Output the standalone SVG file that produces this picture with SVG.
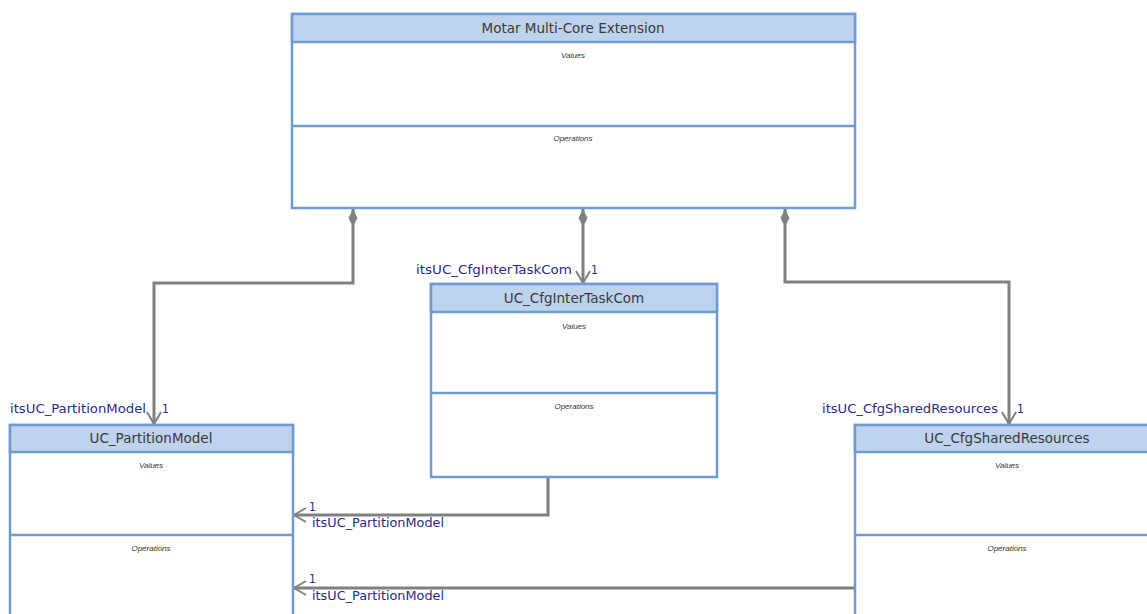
<svg xmlns="http://www.w3.org/2000/svg" width="1147" height="614" viewBox="0 0 1147 614">
  <style>
    .box { fill: #ffffff; stroke: #6f9bd1; stroke-width: 2.5; }
    .head { fill: #bdd3ee; stroke: #6f9bd1; stroke-width: 2.5; }
    .sep { stroke: #6f9bd1; stroke-width: 2.5; }
    .title { font-family: "DejaVu Sans", sans-serif; font-size: 13.5px; fill: #3a3a3a; text-anchor: middle; }
    .sect { font-family: "Liberation Sans", sans-serif; font-size: 8px; font-style: italic; fill: #333333; text-anchor: middle; }
    .wire { fill: none; stroke: #808080; stroke-width: 3; }
    .lbl { font-family: "DejaVu Sans Condensed", "DejaVu Sans", sans-serif; font-size: 12px; fill: #2b2b8a; }
  </style>
  <defs>
    <marker id="open" viewBox="0 0 14 16" refX="13" refY="8" markerWidth="14" markerHeight="16" markerUnits="userSpaceOnUse" orient="auto">
      <path d="M1,1 L13,8 L1,15" fill="none" stroke="#808080" stroke-width="2"/>
    </marker>
    <marker id="diamond" viewBox="0 0 20 10" refX="0" refY="5" markerWidth="20" markerHeight="10" markerUnits="userSpaceOnUse" orient="auto">
      <path d="M0,5 L9,0.5 L18,5 L9,9.5 Z" fill="#808080"/>
    </marker>
  </defs>

  <!-- connectors -->
  <g id="connectors">
    <path class="wire" d="M353,209 V283 H154 V424" marker-start="url(#diamond)" marker-end="url(#open)"/>
    <path class="wire" d="M583,209 V283" marker-start="url(#diamond)" marker-end="url(#open)"/>
    <path class="wire" d="M785,209 V282 H1009 V424" marker-start="url(#diamond)" marker-end="url(#open)"/>
    <path class="wire" d="M548,477 V515 H294" marker-end="url(#open)"/>
    <path class="wire" d="M855,588 H294" marker-end="url(#open)"/>

    <text class="lbl" x="146" y="413" text-anchor="end" textLength="136" lengthAdjust="spacingAndGlyphs">itsUC_PartitionModel</text>
    <text class="lbl" x="162" y="413">1</text>
    <text class="lbl" x="572" y="274" text-anchor="end" textLength="156" lengthAdjust="spacingAndGlyphs">itsUC_CfgInterTaskCom</text>
    <text class="lbl" x="591" y="274">1</text>
    <text class="lbl" x="998" y="413" text-anchor="end" textLength="176" lengthAdjust="spacingAndGlyphs">itsUC_CfgSharedResources</text>
    <text class="lbl" x="1017" y="413">1</text>
    <text class="lbl" x="309" y="511">1</text>
    <text class="lbl" x="312" y="527" textLength="132" lengthAdjust="spacingAndGlyphs">itsUC_PartitionModel</text>
    <text class="lbl" x="309" y="583">1</text>
    <text class="lbl" x="312" y="600" textLength="132" lengthAdjust="spacingAndGlyphs">itsUC_PartitionModel</text>
  </g>

  <!-- Motar Multi-Core Extension -->
  <g id="motar">
    <rect class="box" x="292" y="14" width="563" height="194"/>
    <rect class="head" x="292" y="14" width="563" height="28"/>
    <line class="sep" x1="292" y1="126" x2="855" y2="126"/>
    <text class="title" x="573" y="33">Motar Multi-Core Extension</text>
    <text class="sect" x="573" y="58">Values</text>
    <text class="sect" x="573" y="141">Operations</text>
  </g>

  <!-- UC_CfgInterTaskCom -->
  <g id="cfgInterTaskCom">
    <rect class="box" x="431" y="284" width="286" height="193"/>
    <rect class="head" x="431" y="284" width="286" height="28"/>
    <line class="sep" x1="431" y1="393" x2="717" y2="393"/>
    <text class="title" x="574" y="303">UC_CfgInterTaskCom</text>
    <text class="sect" x="574" y="329">Values</text>
    <text class="sect" x="574" y="409">Operations</text>
  </g>

  <!-- UC_PartitionModel -->
  <g id="partitionModel">
    <rect class="box" x="10" y="425" width="283" height="200"/>
    <rect class="head" x="10" y="425" width="283" height="27"/>
    <line class="sep" x1="10" y1="535" x2="293" y2="535"/>
    <text class="title" x="151" y="443">UC_PartitionModel</text>
    <text class="sect" x="151" y="468">Values</text>
    <text class="sect" x="151" y="551">Operations</text>
  </g>

  <!-- UC_CfgSharedResources -->
  <g id="cfgSharedResources">
    <rect class="box" x="855" y="425" width="310" height="200"/>
    <rect class="head" x="855" y="425" width="310" height="27"/>
    <line class="sep" x1="855" y1="535" x2="1165" y2="535"/>
    <text class="title" x="1007" y="443">UC_CfgSharedResources</text>
    <text class="sect" x="1007" y="468">Values</text>
    <text class="sect" x="1007" y="551">Operations</text>
  </g>
</svg>
